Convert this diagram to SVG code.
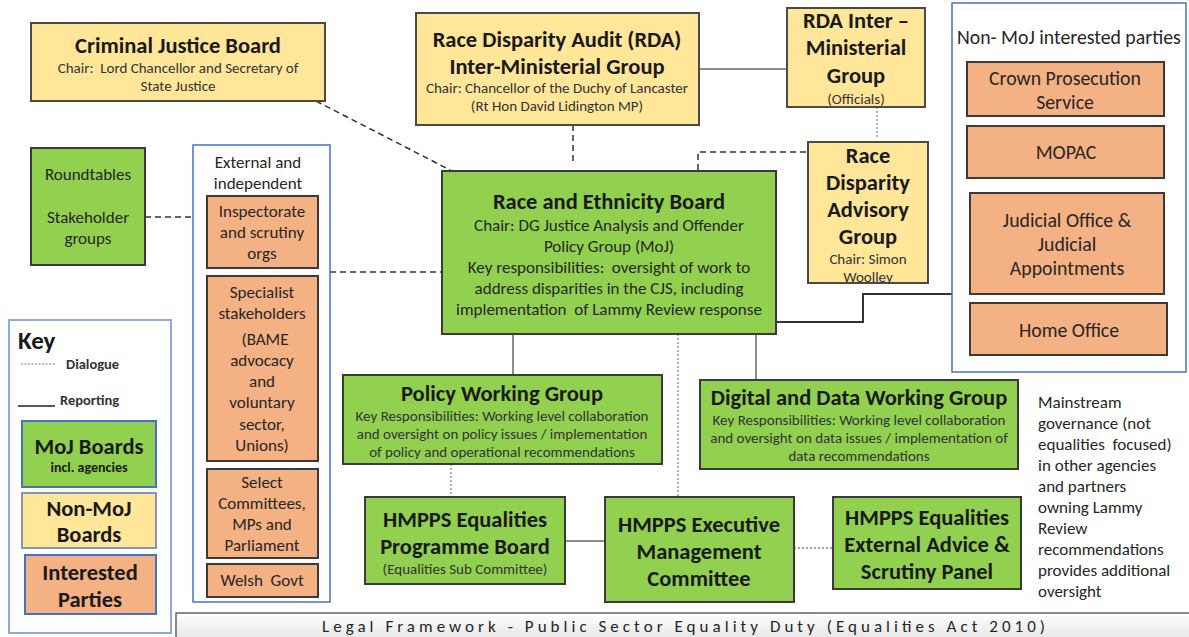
<svg xmlns="http://www.w3.org/2000/svg" width="1189" height="637" viewBox="0 0 1189 637">
  <defs>
    <linearGradient id="barFill" x1="0" y1="0" x2="0" y2="1">
      <stop offset="0" stop-color="#ffffff"/>
      <stop offset="1" stop-color="#e6e6e6"/>
    </linearGradient>
    <style>
      text { font-family: Carlito, Lato, "Liberation Sans", sans-serif; fill: #1a1a1a; text-anchor: middle; white-space: pre; }
      .moj { fill: #92d050; stroke: #3a3a3a; stroke-width: 2; }
      .board { fill: #ffe699; stroke: #4a4a4a; stroke-width: 2; }
      .party { fill: #f4b183; stroke: #3a3a3a; stroke-width: 2; }
      .frame { fill: #ffffff; stroke: #4472c4; stroke-width: 1.5; }
      .keyframe { fill: #ffffff; stroke: #8eaadb; stroke-width: 2; }
      .t { font-weight: bold; font-size: 22.5px; }
      .s { font-size: 15px; fill: #333; }
      .m { font-size: 17px; fill: #262626; }
      .l { font-size: 19.8px; fill: #262626; }
      .kl { font-weight: bold; font-size: 22.5px; }
      .dash { fill: none; stroke: #333; stroke-width: 1.5; stroke-dasharray: 6 4; }
      .dot { fill: none; stroke: #888; stroke-width: 1.3; stroke-dasharray: 2 2; }
      .solid { fill: none; stroke: #666; stroke-width: 1.5; }
      .solidDark { fill: none; stroke: #333; stroke-width: 2; }
    </style>
  </defs>

  <rect width="1189" height="637" fill="#ffffff"/>

  <!-- connectors -->
  <g id="connectors">
    <path class="dash" d="M316,101 L452,171"/>
    <path class="dash" d="M145,217 L193,217"/>
    <path class="dash" d="M330,272 L442,272"/>
    <path class="dash" d="M573,125 L573,162"/>
    <path class="dash" d="M698,170 L698,152 L808,152"/>
    <path class="solid" d="M699,69 L787,69"/>
    <path class="dot" d="M877,107 L877,138"/>
    <path class="solidDark" d="M776,322 L863,322 L863,294 L952,294"/>
    <path class="solid" d="M513,334 L513,375"/>
    <path class="dot" d="M678,334 L678,497"/>
    <path class="solid" d="M756,334 L756,380"/>
    <path class="dot" d="M451,464 L451,497"/>
    <path class="solid" d="M565,541 L605,541"/>
    <path class="dot" d="M794,548 L833,548"/>
  </g>

  <!-- Criminal Justice Board -->
  <g id="criminal-justice-board">
    <rect class="board" x="31" y="23" width="294" height="78"/>
    <text class="t" x="178" y="53">Criminal Justice Board</text>
    <text class="s" x="178" y="73">Chair:  Lord Chancellor and Secretary of</text>
    <text class="s" x="178" y="91">State Justice</text>
  </g>

  <!-- Roundtables -->
  <g id="roundtables">
    <rect class="moj" x="31" y="148" width="114" height="117"/>
    <text class="m" x="88" y="180">Roundtables</text>
    <text class="m" x="88" y="223">Stakeholder</text>
    <text class="m" x="88" y="244">groups</text>
  </g>

  <!-- External and independent -->
  <g id="external-independent">
    <rect class="frame" x="193" y="145" width="137" height="457"/>
    <text class="m" x="258" y="168">External and</text>
    <text class="m" x="258" y="189">independent</text>
  </g>
  <g id="inspectorate">
    <rect class="party" x="207" y="196" width="111" height="72"/>
    <text class="m" x="262" y="217">Inspectorate</text>
    <text class="m" x="262" y="238">and scrutiny</text>
    <text class="m" x="262" y="259">orgs</text>
  </g>
  <g id="specialist-stakeholders">
    <rect class="party" x="207" y="276" width="111" height="185"/>
    <text class="m" x="262" y="298">Specialist</text>
    <text class="m" x="262" y="319">stakeholders</text>
    <text class="m" x="265" y="345">(BAME</text>
    <text class="m" x="262" y="366">advocacy</text>
    <text class="m" x="262" y="387">and</text>
    <text class="m" x="262" y="408">voluntary</text>
    <text class="m" x="262" y="430">sector,</text>
    <text class="m" x="262" y="451">Unions)</text>
  </g>
  <g id="select-committees">
    <rect class="party" x="207" y="469" width="111" height="89"/>
    <text class="m" x="262" y="488">Select</text>
    <text class="m" x="262" y="509">Committees,</text>
    <text class="m" x="262" y="530">MPs and</text>
    <text class="m" x="262" y="551">Parliament</text>
  </g>
  <g id="welsh-govt">
    <rect class="party" x="207" y="564" width="111" height="33"/>
    <text class="m" x="262" y="586">Welsh  Govt</text>
  </g>

  <!-- Key -->
  <g id="key">
    <rect class="keyframe" x="9" y="320" width="162" height="313"/>
    <text x="18" y="349" style="font-weight:bold;font-size:25px;text-anchor:start">Key</text>
    <path d="M21,364 L55,364" fill="none" stroke="#777" stroke-width="1" stroke-dasharray="2 1.5"/>
    <text x="66" y="369" style="font-weight:bold;font-size:14.5px;text-anchor:start;fill:#333">Dialogue</text>
    <path d="M18,406 L55,406" fill="none" stroke="#222" stroke-width="1.3"/>
    <text x="60" y="405" style="font-weight:bold;font-size:14.5px;text-anchor:start;fill:#333">Reporting</text>
  </g>
  <g id="key-moj">
    <rect class="moj" x="22" y="421" width="134" height="66" style="stroke:#4472c4"/>
    <text class="kl" x="89" y="454">MoJ Boards</text>
    <text x="89" y="472" style="font-weight:bold;font-size:14px">incl. agencies</text>
  </g>
  <g id="key-non-moj">
    <rect class="board" x="22" y="493" width="134" height="55" style="stroke:#8497b0"/>
    <text class="kl" x="89" y="516">Non-MoJ</text>
    <text class="kl" x="89" y="542">Boards</text>
  </g>
  <g id="key-interested">
    <rect class="party" x="25" y="555" width="131" height="59" style="stroke:#4472c4"/>
    <text class="kl" x="90" y="580">Interested</text>
    <text class="kl" x="90" y="607">Parties</text>
  </g>

  <!-- RDA Inter-Ministerial Group -->
  <g id="rda-img">
    <rect class="board" x="416" y="13" width="283" height="112"/>
    <text class="t" x="557" y="47">Race Disparity Audit (RDA)</text>
    <text class="t" x="557" y="74">Inter-Ministerial Group</text>
    <text class="s" x="557" y="93">Chair: Chancellor of the Duchy of Lancaster</text>
    <text class="s" x="557" y="111">(Rt Hon David Lidington MP)</text>
  </g>

  <!-- Race and Ethnicity Board -->
  <g id="race-ethnicity-board">
    <rect class="moj" x="442" y="171" width="334" height="163"/>
    <text class="t" x="609" y="209">Race and Ethnicity Board</text>
    <text class="m" x="609" y="231">Chair: DG Justice Analysis and Offender</text>
    <text class="m" x="609" y="252">Policy Group (MoJ)</text>
    <text class="m" x="609" y="273">Key responsibilities:  oversight of work to</text>
    <text class="m" x="609" y="294">address disparities in the CJS, including</text>
    <text class="m" x="609" y="315">implementation  of Lammy Review response</text>
  </g>

  <!-- RDA Inter-Ministerial Group (Officials) -->
  <g id="rda-officials">
    <rect class="board" x="787" y="8" width="138" height="99"/>
    <text class="t" x="856" y="28">RDA Inter –</text>
    <text class="t" x="856" y="55">Ministerial</text>
    <text class="t" x="856" y="83">Group</text>
    <text class="s" x="856" y="104">(Officials)</text>
  </g>

  <!-- Race Disparity Advisory Group -->
  <g id="rdag">
    <rect class="board" x="808" y="142" width="120" height="141"/>
    <text class="t" x="868" y="163">Race</text>
    <text class="t" x="868" y="190">Disparity</text>
    <text class="t" x="868" y="217">Advisory</text>
    <text class="t" x="868" y="244">Group</text>
    <text class="s" x="868" y="264">Chair: Simon</text>
    <text class="s" x="868" y="282">Woolley</text>
  </g>

  <!-- Non-MoJ interested parties -->
  <g id="non-moj-parties">
    <rect class="frame" x="952" y="3" width="234" height="369"/>
    <text class="l" x="957" y="44" style="text-anchor:start">Non- MoJ interested parties</text>
  </g>
  <g id="cps">
    <rect class="party" x="967" y="62" width="197" height="54"/>
    <text class="l" x="1065" y="85">Crown Prosecution</text>
    <text class="l" x="1065" y="109">Service</text>
  </g>
  <g id="mopac">
    <rect class="party" x="967" y="126" width="197" height="52"/>
    <text class="l" x="1066" y="159">MOPAC</text>
  </g>
  <g id="judicial-office">
    <rect class="party" x="970" y="193" width="194" height="101"/>
    <text class="l" x="1067" y="227">Judicial Office &amp;</text>
    <text class="l" x="1067" y="251">Judicial</text>
    <text class="l" x="1067" y="275">Appointments</text>
  </g>
  <g id="home-office">
    <rect class="party" x="970" y="303" width="197" height="52"/>
    <text class="l" x="1069" y="337">Home Office</text>
  </g>

  <!-- Policy Working Group -->
  <g id="policy-wg">
    <rect class="moj" x="343" y="375" width="319" height="89"/>
    <text class="t" x="502" y="401">Policy Working Group</text>
    <text class="s" x="502" y="421">Key Responsibilities: Working level collaboration</text>
    <text class="s" x="502" y="439">and oversight on policy issues / implementation</text>
    <text class="s" x="502" y="457">of policy and operational recommendations</text>
  </g>

  <!-- Digital and Data Working Group -->
  <g id="digital-data-wg">
    <rect class="moj" x="700" y="380" width="318" height="89"/>
    <text class="t" x="859" y="405">Digital and Data Working Group</text>
    <text class="s" x="859" y="425">Key Responsibilities: Working level collaboration</text>
    <text class="s" x="859" y="443">and oversight on data issues / implementation of</text>
    <text class="s" x="859" y="461">data recommendations</text>
  </g>

  <!-- HMPPS Equalities Programme Board -->
  <g id="hmpps-epb">
    <rect class="moj" x="365" y="497" width="200" height="87"/>
    <text class="t" x="465" y="527">HMPPS Equalities</text>
    <text class="t" x="465" y="554">Programme Board</text>
    <text class="s" x="465" y="574">(Equalities Sub Committee)</text>
  </g>

  <!-- HMPPS Executive Management Committee -->
  <g id="hmpps-emc">
    <rect class="moj" x="605" y="497" width="189" height="105"/>
    <text class="t" x="699" y="532">HMPPS Executive</text>
    <text class="t" x="699" y="559">Management</text>
    <text class="t" x="699" y="586">Committee</text>
  </g>

  <!-- HMPPS Equalities External Advice & Scrutiny Panel -->
  <g id="hmpps-eaesp">
    <rect class="moj" x="833" y="497" width="188" height="92"/>
    <text class="t" x="927" y="525">HMPPS Equalities</text>
    <text class="t" x="927" y="552">External Advice &amp;</text>
    <text class="t" x="927" y="579">Scrutiny Panel</text>
  </g>

  <!-- Mainstream governance note -->
  <g id="mainstream-note">
    <text class="m" x="1038" y="408" style="text-anchor:start">Mainstream</text>
    <text class="m" x="1038" y="429" style="text-anchor:start">governance (not</text>
    <text class="m" x="1038" y="450" style="text-anchor:start">equalities  focused)</text>
    <text class="m" x="1038" y="471" style="text-anchor:start">in other agencies</text>
    <text class="m" x="1038" y="492" style="text-anchor:start">and partners</text>
    <text class="m" x="1038" y="513" style="text-anchor:start">owning Lammy</text>
    <text class="m" x="1038" y="534" style="text-anchor:start">Review</text>
    <text class="m" x="1038" y="555" style="text-anchor:start">recommendations</text>
    <text class="m" x="1038" y="576" style="text-anchor:start">provides additional</text>
    <text class="m" x="1038" y="597" style="text-anchor:start">oversight</text>
  </g>

  <!-- Legal framework bar -->
  <g id="legal-framework">
    <rect x="176" y="613" width="1015" height="26" fill="url(#barFill)" stroke="#666" stroke-width="1.5"/>
    <text x="322" y="632" textLength="723" lengthAdjust="spacing" style="font-size:17px;fill:#262626;text-anchor:start">Legal Framework - Public Sector Equality Duty (Equalities Act 2010)</text>
  </g>
</svg>
